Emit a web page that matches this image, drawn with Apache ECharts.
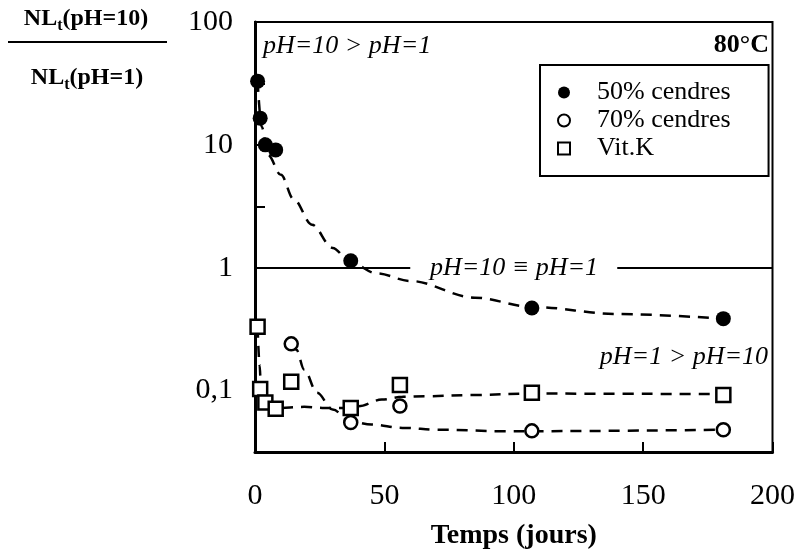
<!DOCTYPE html>
<html>
<head>
<meta charset="utf-8">
<script src="https://cdn.jsdelivr.net/npm/echarts@6/dist/echarts.min.js"></script>
<style>
  html, body { margin: 0; background: #fff; }
  #chart { width: 798px; height: 560px; }
</style>
</head>
<body>
<div id="chart"></div>
<script>
// points mesurés : NLt(pH=10) / NLt(pH=1) en fonction du temps (jours)
var days50 = [1, 2, 4, 8, 37, 107, 181];
var ratio50 = [33, 16.5, 10, 9.1, 1.14, 0.47, 0.385];
var days70 = [14, 37, 56, 107, 181];
var ratio70 = [0.24, 0.055, 0.075, 0.047, 0.048];
var daysVitK = [1, 2, 4, 8, 14, 37, 56, 107, 181];
var ratioVitK = [0.33, 0.103, 0.08, 0.071, 0.118, 0.072, 0.111, 0.096, 0.092];

// courbes de tendance (pointillés)
var fitDays50 = [1, 2.6, 5, 10, 15, 22, 30, 37, 47, 60, 85, 107, 140, 181];
var fit50 = [33, 14, 8.3, 5.7, 3.6, 2.24, 1.45, 1.1, 0.9, 0.78, 0.57, 0.48, 0.42, 0.385];
var fitDays70 = [14, 16, 19, 24, 30, 37, 45, 57, 71, 96, 107, 181];
var fit70 = [0.24, 0.215, 0.148, 0.096, 0.07, 0.056, 0.053, 0.0497, 0.048, 0.0467, 0.0467, 0.048];
var fitDaysVitK = [1, 1.8, 2.3, 4, 8, 19, 26, 37, 40, 49, 57, 66, 84, 107, 181];
var fitVitK = [0.33, 0.16, 0.103, 0.08, 0.072, 0.0737, 0.0723, 0.072, 0.0745, 0.0845, 0.089, 0.09, 0.092, 0.0945, 0.0935];

// droite pH=10 ≡ pH=1 (interrompue pour le texte)
var refSegments = [[0, 60], [140, 200]];
var refValue = 1;

// axes
var xTicks = [0, 50, 100, 150, 200];
var yMin = Math.pow(10, -1.5);
var yMax = 100;
var yLabels = { '2': '100', '1': '10', '0': '1', '-1': '0,1' };

var serif = 'Liberation Serif';

function pairs(xs, ys) {
  return xs.map(function (x, i) { return [x, ys[i]]; });
}

function fitLine(xs, ys) {
  return {
    type: 'line',
    data: pairs(xs, ys),
    showSymbol: false,
    symbol: 'none',
    smooth: 0.35,
    smoothMonotone: 'x',
    silent: true,
    z: 2,
    lineStyle: { color: '#000', width: 2.5, type: [11, 8] }
  };
}

// fraction NLt(pH=10) / NLt(pH=1)
var titleRich = {
  a: { fontFamily: serif, fontSize: 24, fontWeight: 'bold', color: '#000', lineHeight: 28 },
  t: { fontFamily: serif, fontSize: 16, fontWeight: 'bold', color: '#000', lineHeight: 16, padding: [14, 0, 0, 0] }
};

var myChart = echarts.init(document.getElementById('chart'));

var option = {
  animation: false,
  backgroundColor: '#fff',
  grid: {
    left: 255, right: 21, top: 22, bottom: 108,
    show: true, borderColor: '#000', borderWidth: 2
  },
  legend: {
    data: ['50% cendres', '70% cendres', 'Vit.K'],
    orient: 'vertical',
    left: 540,
    top: 65,
    padding: [14, 38, 14, 17],
    itemGap: 1,
    itemWidth: 12,
    itemHeight: 12,
    borderColor: '#000',
    borderWidth: 2,
    textStyle: {
      fontFamily: serif, fontSize: 26, lineHeight: 27, color: '#000',
      padding: [0, 0, 0, 22]
    }
  },
  xAxis: {
    type: 'value',
    min: xTicks[0],
    max: xTicks[xTicks.length - 1],
    interval: 50,
    splitLine: { show: false },
    axisLine: { lineStyle: { color: '#000', width: 3 } },
    axisTick: { inside: true, length: 10, lineStyle: { color: '#000', width: 2 } },
    axisLabel: { fontFamily: serif, fontSize: 30, color: '#000', margin: 29 },
    name: 'Temps (jours)',
    nameLocation: 'middle',
    nameGap: 70,
    nameTextStyle: { fontFamily: serif, fontSize: 28, fontWeight: 'bold', color: '#000' }
  },
  yAxis: {
    type: 'log',
    logBase: Math.sqrt(10),
    min: yMin,
    max: yMax,
    splitNumber: 7,
    splitLine: { show: false },
    axisLine: { lineStyle: { color: '#000', width: 3 } },
    axisTick: { inside: true, length: 10, lineStyle: { color: '#000', width: 2 } },
    axisLabel: {
      fontFamily: serif, fontSize: 30, color: '#000', margin: 22,
      formatter: function (v) {
        var e = Math.log10(v);
        var r = Math.round(e);
        if (Math.abs(e - r) > 1e-6) return '';
        return yLabels[String(r)] || '';
      }
    }
  },
  graphic: [
    {
      type: 'text', x: 86, y: 19,
      style: {
        text: '{a|NL}{t|t}{a|(pH=10)}',
        textAlign: 'center', textVerticalAlign: 'middle',
        rich: titleRich
      }
    },
    {
      type: 'line',
      shape: { x1: 8, y1: 42, x2: 167, y2: 42 },
      style: { stroke: '#000', lineWidth: 2 }
    },
    {
      type: 'text', x: 87, y: 78,
      style: {
        text: '{a|NL}{t|t}{a|(pH=1)}',
        textAlign: 'center', textVerticalAlign: 'middle',
        rich: titleRich
      }
    },
    {
      type: 'text', x: 263, y: 46,
      style: {
        text: 'pH=10 > pH=1', fontFamily: serif, fontStyle: 'italic', fontSize: 26,
        fill: '#000', textVerticalAlign: 'middle'
      }
    },
    {
      type: 'text', x: 769, y: 45,
      style: {
        text: '80°C', fontFamily: serif, fontWeight: 'bold', fontSize: 26,
        fill: '#000', textAlign: 'right', textVerticalAlign: 'middle'
      }
    },
    {
      type: 'text', x: 514, y: 268,
      style: {
        text: 'pH=10 ≡ pH=1', fontFamily: serif, fontStyle: 'italic', fontSize: 26,
        fill: '#000', textAlign: 'center', textVerticalAlign: 'middle'
      }
    },
    {
      type: 'text', x: 768, y: 357,
      style: {
        text: 'pH=1 > pH=10', fontFamily: serif, fontStyle: 'italic', fontSize: 26,
        fill: '#000', textAlign: 'right', textVerticalAlign: 'middle'
      }
    }
  ],
  series: [
    fitLine(fitDays50, fit50),
    fitLine(fitDays70, fit70),
    fitLine(fitDaysVitK, fitVitK),
    {
      type: 'line',
      data: [],
      silent: true,
      markLine: {
        silent: true,
        symbol: 'none',
        label: { show: false },
        lineStyle: { color: '#000', width: 2, type: 'solid' },
        data: refSegments.map(function (s) {
          return [{ coord: [s[0], refValue] }, { coord: [s[1], refValue] }];
        })
      }
    },
    {
      name: '50% cendres',
      type: 'scatter',
      symbol: 'circle',
      symbolSize: 15,
      z: 5,
      itemStyle: { color: '#000', opacity: 1 },
      data: pairs(days50, ratio50)
    },
    {
      name: '70% cendres',
      type: 'scatter',
      symbol: 'circle',
      symbolSize: 13,
      z: 5,
      itemStyle: { color: '#fff', borderColor: '#000', borderWidth: 2.5, opacity: 1 },
      data: pairs(days70, ratio70)
    },
    {
      name: 'Vit.K',
      type: 'scatter',
      symbol: 'rect',
      symbolSize: 14,
      z: 5,
      itemStyle: { color: '#fff', borderColor: '#000', borderWidth: 2.5, opacity: 1 },
      data: pairs(daysVitK, ratioVitK)
    }
  ]
};

myChart.setOption(option);
</script>
</body>
</html>
